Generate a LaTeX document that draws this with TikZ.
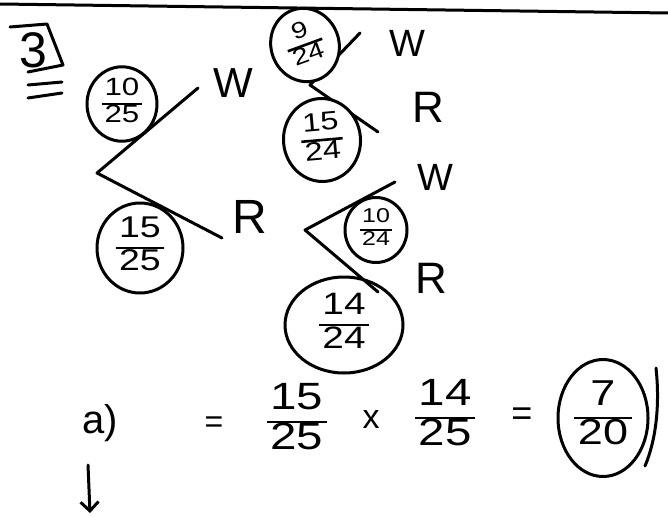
\documentclass[tikz,border=0pt]{standalone}
\usepackage{fontspec}
\usepackage{graphicx}
\setmainfont{Liberation Sans}
\usetikzlibrary{shapes.geometric,arrows.meta}
\newcommand\hfr[2]{{\renewcommand\arraystretch{1.0}\setlength\arrayrulewidth{2.6pt}\begin{tabular}{@{\hspace{0.1em}}c@{\hspace{0.1em}}}\scalebox{1.25}[1]{#1}\\\hline \scalebox{1.25}[1]{#2}\end{tabular}}}
\begin{document}
\begin{tikzpicture}[x=1pt,y=-1pt,
  ink/.style={line width=3pt,line cap=round,line join=round},
  circ/.style={draw,ellipse,ink,inner sep=0pt},
  lab/.style={inner sep=0pt,font=\fontsize{42}{42}\selectfont},
  eqtxt/.style={inner sep=0pt,font=\fontsize{40}{42}\selectfont}]
\useasboundingbox[fill=white] (0,0) rectangle (668,516);
% top border line
\draw[ink] (0,4) -- (668,13);
% question number
\node[inner sep=0pt,font=\fontsize{50}{50}\selectfont] (q3) at (33,50) {3};
\draw[ink] (10,27) -- (47,24) -- (63,65) -- (28,72);
\draw[ink] (28,85) -- (62,82);
\draw[ink] (28,98) -- (62,93);
% first tree
\coordinate (r1) at (97,173);
\coordinate (w1e) at (198,88);
\coordinate (r1e) at (222,238);
\draw[ink] (w1e) -- (r1) -- (r1e);
\node[lab] (W1) at (233,83) {W};
\node[lab,font=\fontsize{48}{48}\selectfont] (R1) at (250,217) {R};
\node[circ,minimum width=70pt,minimum height=72pt,font=\fontsize{25}{25}\selectfont] (c1025) at (122,104) {\hfr{10}{25}};
\node[circ,minimum width=86pt,minimum height=90pt,font=\fontsize{30}{30}\selectfont] (c1525) at (140,248) {\hfr{15}{25}};
% second tree (after W)
\coordinate (r2) at (310,85);
\coordinate (w2e) at (360,33);
\coordinate (r2e) at (378,132);
\draw[ink] (w2e) -- (r2) -- (r2e);
\node[lab,font=\fontsize{38}{38}\selectfont] (W2) at (407,43) {W};
\node[lab,font=\fontsize{44}{44}\selectfont] (R2) at (428,107) {R};
\node[circ,fill=white,rotate=20,minimum width=68pt,minimum height=74pt,font=\fontsize{23}{23}\selectfont] (c924) at (305,45) {\hfr{9}{24}};
\node[circ,fill=white,rotate=5,minimum width=77pt,minimum height=83pt,font=\fontsize{26}{26}\selectfont] (c1524) at (322,140) {\hfr{15}{24}};
% third tree (after R)
\coordinate (r3) at (305,230);
\coordinate (w3e) at (395,182);
\coordinate (r3e) at (378,292);
\draw[ink] (w3e) -- (r3) -- (r3e);
\node[lab,font=\fontsize{38}{38}\selectfont] (W3) at (435,177) {W};
\node[lab,font=\fontsize{44}{44}\selectfont] (R3) at (431,278) {R};
\node[circ,fill=white,minimum width=62pt,minimum height=65pt,font=\fontsize{20}{20}\selectfont] (c1024) at (376,230) {\hfr{10}{24}};
\node[circ,minimum width=118pt,minimum height=96pt,font=\fontsize{31}{31}\selectfont] (c1424) at (344,325) {\hfr{14}{24}};
% part a
\node[eqtxt] (pa) at (100,423) {a)};
\node[eqtxt,font=\fontsize{32}{32}\selectfont] (eq1) at (214,425) {=};
\node[eqtxt,font=\fontsize{38}{38}\selectfont] (f1) at (297,422) {\hfr{15}{25}};
\node[eqtxt,font=\fontsize{34}{34}\selectfont] (times) at (371,420) {x};
\node[eqtxt,font=\fontsize{38}{38}\selectfont] (f2) at (445,418) {\hfr{14}{25}};
\node[eqtxt,font=\fontsize{36}{36}\selectfont] (eq2) at (522,417) {=};
\node[circ,minimum width=90pt,minimum height=117pt,font=\fontsize{36}{36}\selectfont] (c720) at (603,418) {\hfr{7}{20}};
\draw[ink] (656,368) .. controls (660,405) and (656,440) .. (645,466);
% arrow
\coordinate (a0) at (88,465);
\coordinate (a1) at (90,513);
\draw[ink,-{Straight Barb[length=9pt,width=18pt]}] (a0) -- (a1);
\end{tikzpicture}
\end{document}
